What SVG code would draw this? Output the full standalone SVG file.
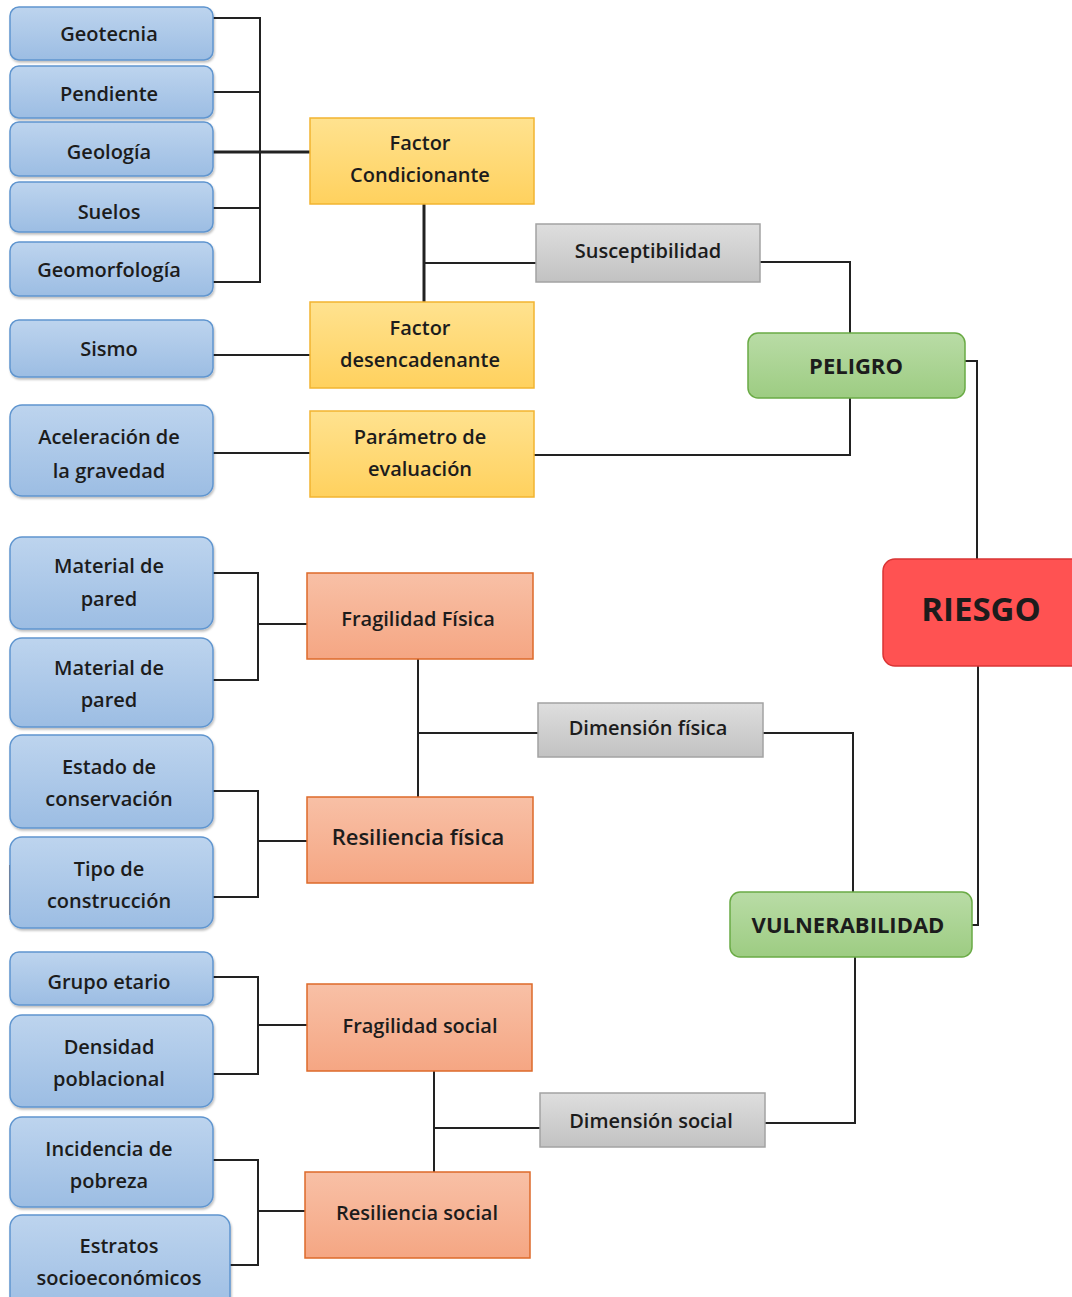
<svg xmlns="http://www.w3.org/2000/svg" width="1072" height="1297" viewBox="0 0 1072 1297">
<defs>
<linearGradient id="gBlue" x1="0" y1="0" x2="0" y2="1"><stop offset="0" stop-color="#bdd4ee"/><stop offset="1" stop-color="#9cbde3"/></linearGradient>
<linearGradient id="gYel" x1="0" y1="0" x2="0" y2="1"><stop offset="0" stop-color="#ffe28f"/><stop offset="1" stop-color="#ffd15e"/></linearGradient>
<linearGradient id="gOra" x1="0" y1="0" x2="0" y2="1"><stop offset="0" stop-color="#f8c0a6"/><stop offset="1" stop-color="#f5a683"/></linearGradient>
<linearGradient id="gGray" x1="0" y1="0" x2="0" y2="1"><stop offset="0" stop-color="#dedede"/><stop offset="1" stop-color="#c2c2c2"/></linearGradient>
<linearGradient id="gGreen" x1="0" y1="0" x2="0" y2="1"><stop offset="0" stop-color="#b9dca6"/><stop offset="1" stop-color="#9dcc82"/></linearGradient>
<filter id="sh" x="-10%" y="-10%" width="130%" height="140%"><feDropShadow dx="1" dy="2" stdDeviation="1.2" flood-color="#000" flood-opacity="0.25"/></filter>
</defs>
<style>
.blue{fill:url(#gBlue);stroke:#5f95cf;stroke-width:1.5;filter:url(#sh)}
.yel{fill:url(#gYel);stroke:#f2b431;stroke-width:1.5}
.ora{fill:url(#gOra);stroke:#dd6a2a;stroke-width:1.5}
.gray{fill:url(#gGray);stroke:#a3a3a3;stroke-width:1.5}
.green{fill:url(#gGreen);stroke:#6aab45;stroke-width:1.5}
.red{fill:#ff5252;stroke:#d93434;stroke-width:1.5}
text{font-family:"Open Sans","Noto Sans","Liberation Sans",sans-serif;font-size:20px;font-weight:600;fill:#1c1c1c;text-anchor:middle;dominant-baseline:central}
.b{font-weight:bold;font-size:22px}
.big{font-weight:bold;font-size:33px}
.l{font-size:22px}
.c{fill:none;stroke:#222;stroke-width:2}
.t{fill:none;stroke:#222;stroke-width:3}
</style>
<g id="connectors">
<path class="c" d="M213 18H260V282H213M213 92H260M213 208H260"/>
<path class="t" d="M213 152H310"/>
<path class="t" d="M424 204V302"/>
<path class="c" d="M424 263H536"/>
<path class="c" d="M760 262H850V333"/>
<path class="c" d="M213 355H310"/>
<path class="c" d="M213 453H310"/>
<path class="c" d="M534 455H850V398"/>
<path class="c" d="M965 361H977V559"/>
<path class="c" d="M978 666V925H972"/>
<path class="c" d="M213 573H258V680H213M258 624H307"/>
<path class="c" d="M213 791H258V897H213M258 841H307"/>
<path class="c" d="M418 659V797M418 733H538"/>
<path class="c" d="M763 733H853V892"/>
<path class="c" d="M213 977H258V1074H213M258 1025H307"/>
<path class="c" d="M213 1160H258V1265H230M258 1211H305"/>
<path class="c" d="M434 1071V1172M434 1128H540"/>
<path class="c" d="M765 1123H855V957"/>
<path d="M10 865V915" stroke="#9a4a10" stroke-width="2"/>
</g>
<g id="n-geotecnia"><rect class="blue" x="10" y="7" width="203" height="53" rx="9"/><text x="109" y="33">Geotecnia</text></g>
<g id="n-pendiente"><rect class="blue" x="10" y="66" width="203" height="52" rx="9"/><text x="109" y="93">Pendiente</text></g>
<g id="n-geologia"><rect class="blue" x="10" y="122" width="203" height="54" rx="9"/><text x="109" y="151">Geología</text></g>
<g id="n-suelos"><rect class="blue" x="10" y="182" width="203" height="50" rx="9"/><text x="109" y="211">Suelos</text></g>
<g id="n-geomorfologia"><rect class="blue" x="10" y="242" width="203" height="54" rx="9"/><text x="109" y="269">Geomorfología</text></g>
<g id="n-sismo"><rect class="blue" x="10" y="320" width="203" height="57" rx="9"/><text x="109" y="348">Sismo</text></g>
<g id="n-aceleracion"><rect class="blue" x="10" y="405" width="203" height="91" rx="12"/><text x="109" y="436">Aceleración de</text><text x="109" y="470">la gravedad</text></g>
<g id="n-factor-cond"><rect class="yel" x="310" y="118" width="224" height="86"/><text x="420" y="142">Factor</text><text x="420" y="174">Condicionante</text></g>
<g id="n-factor-des"><rect class="yel" x="310" y="302" width="224" height="86"/><text x="420" y="327">Factor</text><text x="420" y="359">desencadenante</text></g>
<g id="n-parametro"><rect class="yel" x="310" y="411" width="224" height="86"/><text x="420" y="436">Parámetro de</text><text x="420" y="468">evaluación</text></g>
<g id="n-susceptibilidad"><rect class="gray" x="536" y="224" width="224" height="58"/><text x="648" y="250">Susceptibilidad</text></g>
<g id="n-peligro"><rect class="green" x="748" y="333" width="217" height="65" rx="10"/><text class="b" x="856" y="365">PELIGRO</text></g>
<g id="n-riesgo"><rect class="red" x="883" y="559" width="200" height="107" rx="12"/><text class="big" x="981" y="608">RIESGO</text></g>
<g id="n-material1"><rect class="blue" x="10" y="537" width="203" height="92" rx="12"/><text x="109" y="565">Material de</text><text x="109" y="598">pared</text></g>
<g id="n-material2"><rect class="blue" x="10" y="638" width="203" height="89" rx="12"/><text x="109" y="667">Material de</text><text x="109" y="699">pared</text></g>
<g id="n-estado"><rect class="blue" x="10" y="735" width="203" height="93" rx="12"/><text x="109" y="766">Estado de</text><text x="109" y="798">conservación</text></g>
<g id="n-tipo"><rect class="blue" x="10" y="837" width="203" height="91" rx="12"/><text x="109" y="868">Tipo de</text><text x="109" y="900">construcción</text></g>
<g id="n-frag-fisica"><rect class="ora" x="307" y="573" width="226" height="86"/><text x="418" y="618">Fragilidad Física</text></g>
<g id="n-res-fisica"><rect class="ora" x="307" y="797" width="226" height="86"/><text class="l" x="418" y="836">Resiliencia física</text></g>
<g id="n-dim-fisica"><rect class="gray" x="538" y="703" width="225" height="54"/><text x="648" y="727">Dimensión física</text></g>
<g id="n-vulnerabilidad"><rect class="green" x="730" y="892" width="242" height="65" rx="10"/><text class="b" x="848" y="924">VULNERABILIDAD</text></g>
<g id="n-grupo"><rect class="blue" x="10" y="952" width="203" height="53" rx="9"/><text x="109" y="981">Grupo etario</text></g>
<g id="n-densidad"><rect class="blue" x="10" y="1015" width="203" height="92" rx="12"/><text x="109" y="1046">Densidad</text><text x="109" y="1078">poblacional</text></g>
<g id="n-incidencia"><rect class="blue" x="10" y="1117" width="203" height="90" rx="12"/><text x="109" y="1148">Incidencia de</text><text x="109" y="1180">pobreza</text></g>
<g id="n-estratos"><rect class="blue" x="10" y="1215" width="220" height="100" rx="12"/><text x="119" y="1245">Estratos</text><text x="119" y="1277">socioeconómicos</text></g>
<g id="n-frag-social"><rect class="ora" x="307" y="984" width="225" height="87"/><text x="420" y="1025">Fragilidad social</text></g>
<g id="n-res-social"><rect class="ora" x="305" y="1172" width="225" height="86"/><text x="417" y="1212">Resiliencia social</text></g>
<g id="n-dim-social"><rect class="gray" x="540" y="1093" width="225" height="54"/><text x="651" y="1120">Dimensión social</text></g>
</svg>
